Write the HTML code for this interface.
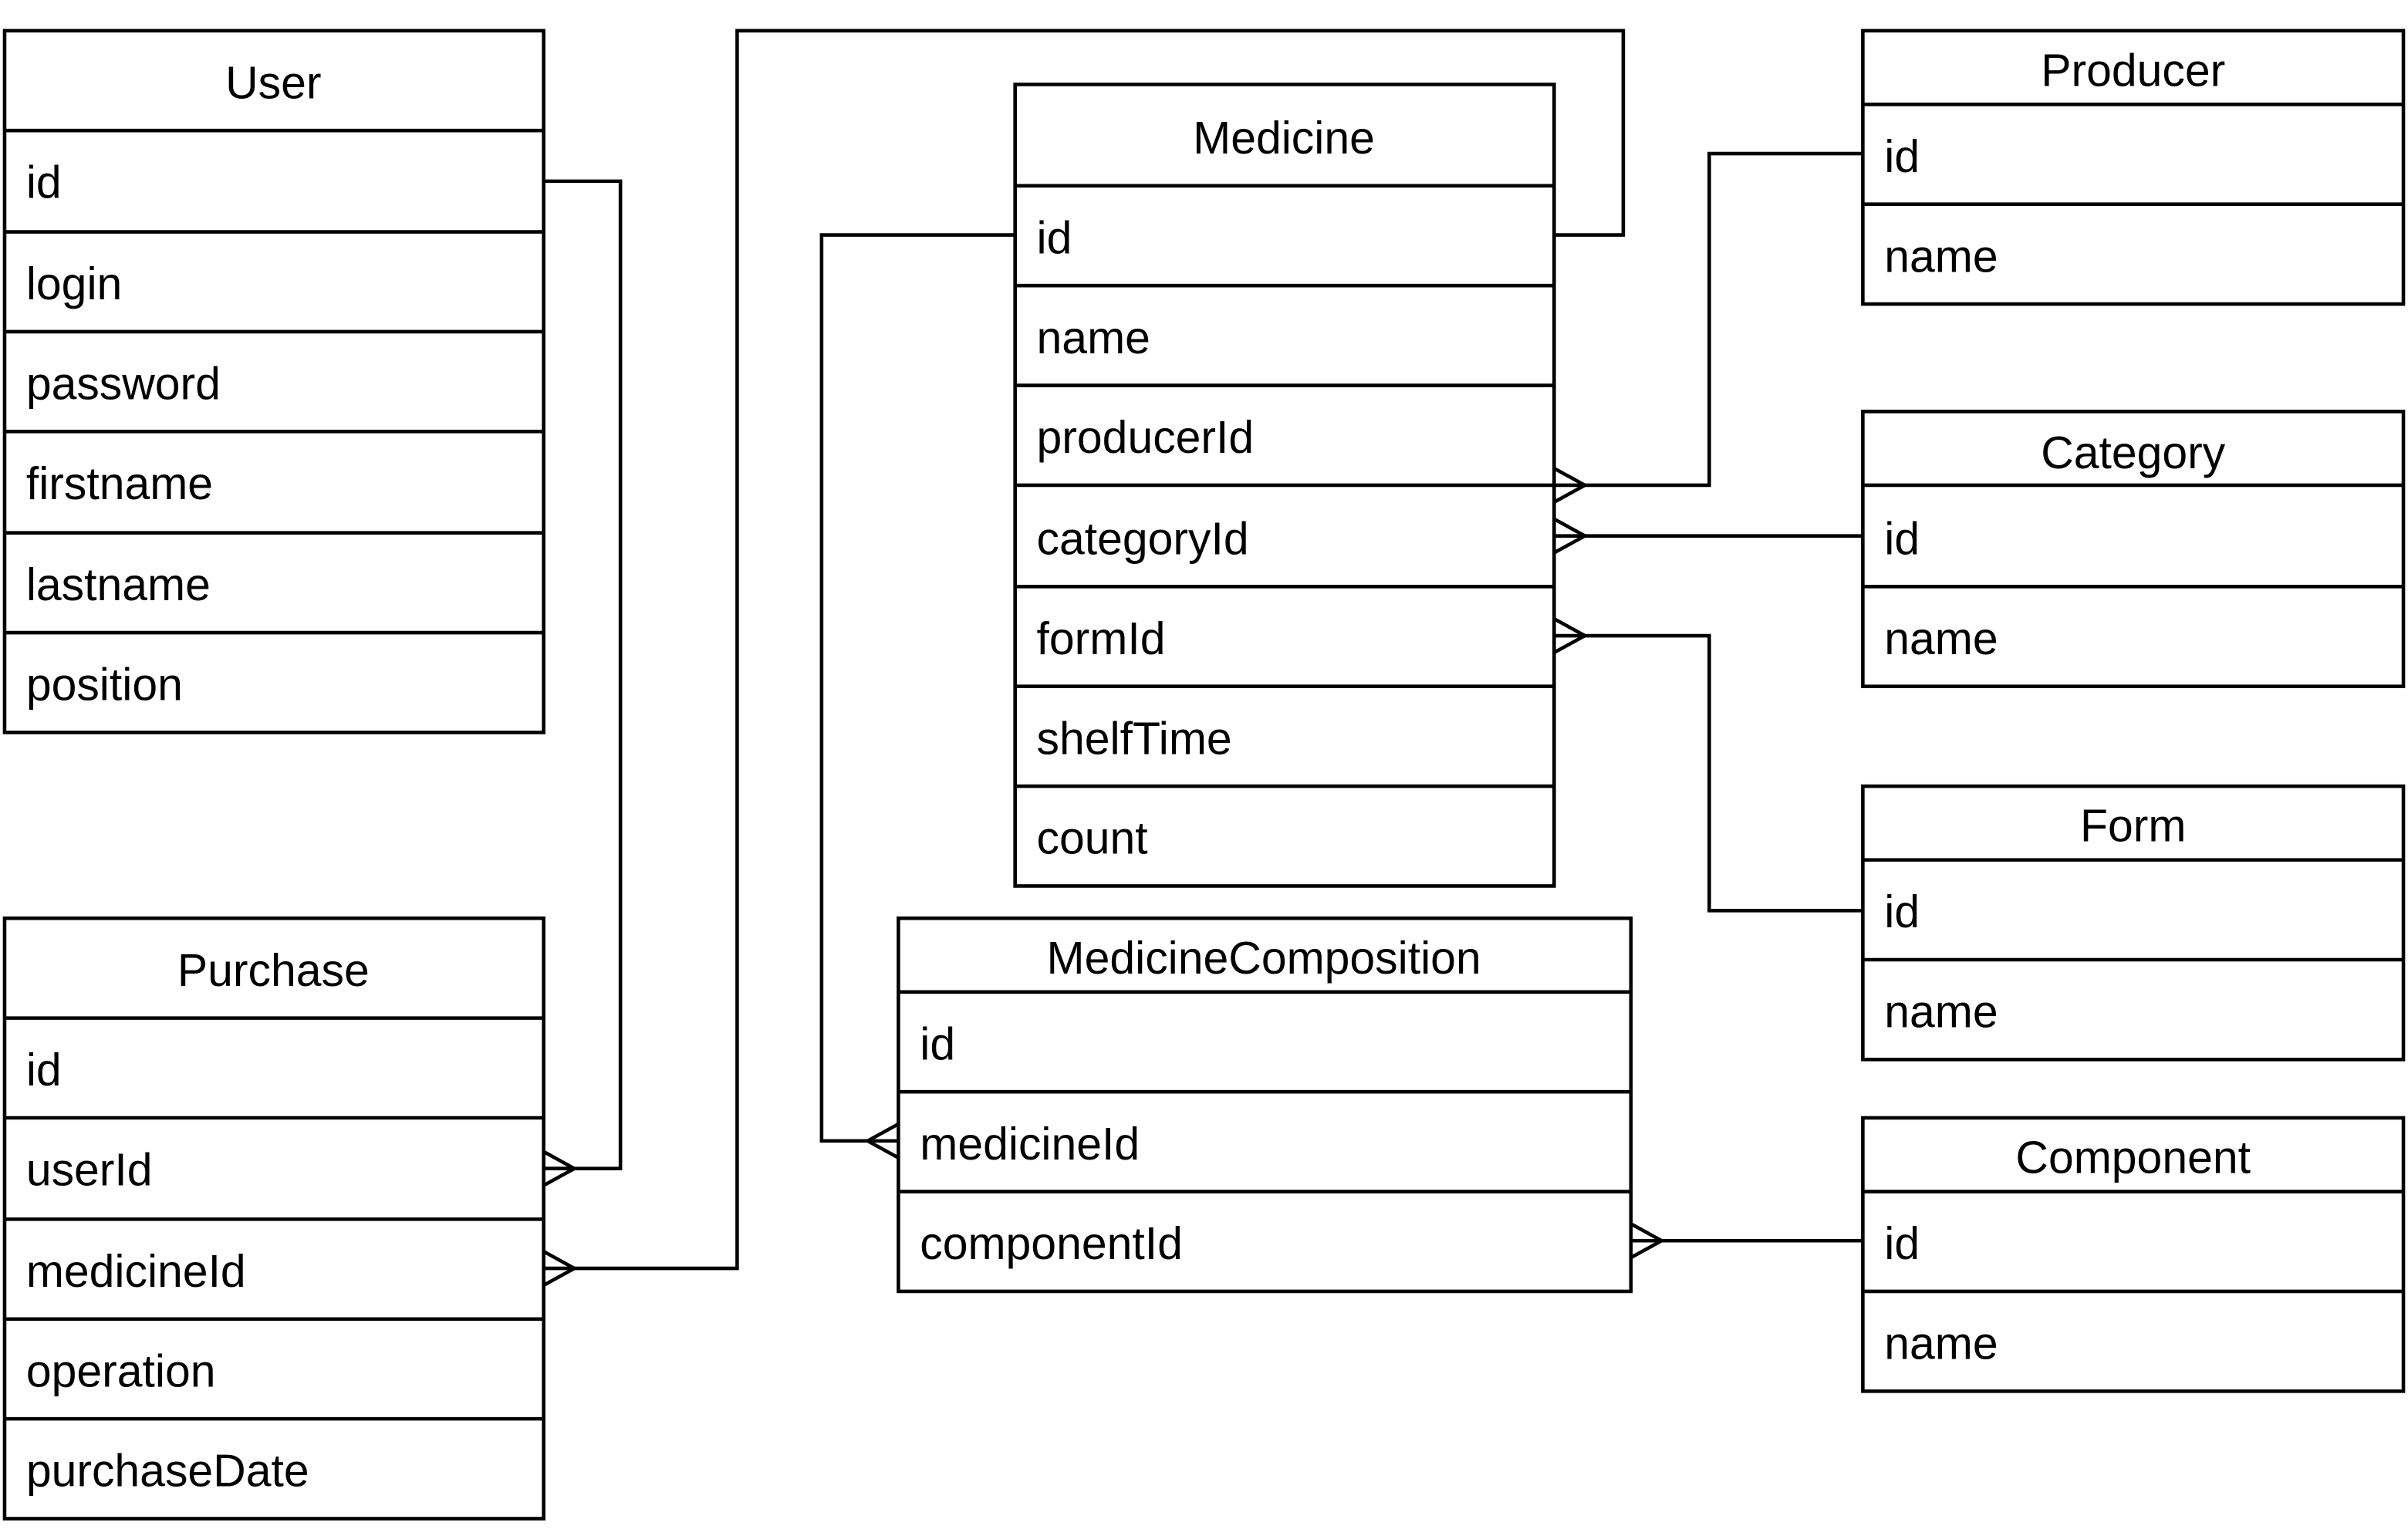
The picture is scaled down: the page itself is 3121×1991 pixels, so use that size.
<!DOCTYPE html>
<html><head><meta charset="utf-8"><style>
html,body{margin:0;padding:0;background:#fff;}
svg{display:block;}
text{font-family:"Liberation Sans",Arial,sans-serif;font-size:29.6px;fill:#000;}
</style></head><body>
<svg width="3121" height="1991" viewBox="0 0 1568 1000.3" preserveAspectRatio="none" xmlns="http://www.w3.org/2000/svg">
<g fill="none" stroke="#000" stroke-width="2.3">
<rect x="3" y="20" width="351" height="457"/>
<path d="M3 85H354M3 151H354M3 216H354M3 281H354M3 347H354M3 412H354"/>
<rect x="3" y="598" width="351" height="391"/>
<path d="M3 663H354M3 728H354M3 794H354M3 859H354M3 924H354"/>
<rect x="661" y="55" width="351" height="522"/>
<path d="M661 121H1012M661 186H1012M661 251H1012M661 316H1012M661 382H1012M661 447H1012M661 512H1012"/>
<rect x="585" y="598" width="477" height="243"/>
<path d="M585 646H1062M585 711H1062M585 776H1062"/>
<rect x="1213" y="20" width="352" height="178"/>
<path d="M1213 68H1565M1213 133H1565"/>
<rect x="1213" y="268" width="352" height="179"/>
<path d="M1213 316H1565M1213 382H1565"/>
<rect x="1213" y="512" width="352" height="178"/>
<path d="M1213 560H1565M1213 625H1565"/>
<rect x="1213" y="728" width="352" height="178"/>
<path d="M1213 776H1565M1213 841H1565"/>
<path d="M354 118H404V761H354"/>
<path d="M354 761L374 761M354 750L374 761L354 772"/>
<path d="M354 826H480V20H1057V153H1012"/>
<path d="M354 815L374 826L354 837"/>
<path d="M661 153H535V743H585"/>
<path d="M585 732L565 743L585 754"/>
<path d="M1213 100H1113V316H1012"/>
<path d="M1012 305L1032 316L1012 327"/>
<path d="M1213 349H1012"/>
<path d="M1012 338L1032 349L1012 360"/>
<path d="M1213 593H1113V414H1012"/>
<path d="M1012 403L1032 414L1012 425"/>
<path d="M1213 808H1062"/>
<path d="M1062 797L1082 808L1062 819"/>
</g>
<g>
<text x="178" y="64" text-anchor="middle">User</text>
<text x="17" y="129">id</text>
<text x="17" y="195">login</text>
<text x="17" y="260">password</text>
<text x="17" y="325">firstname</text>
<text x="17" y="391">lastname</text>
<text x="17" y="456">position</text>

<text x="178" y="642" text-anchor="middle">Purchase</text>
<text x="17" y="707">id</text>
<text x="17" y="772">userId</text>
<text x="17" y="838">medicineId</text>
<text x="17" y="903">operation</text>
<text x="17" y="968">purchaseDate</text>

<text x="836" y="100" text-anchor="middle">Medicine</text>
<text x="675" y="165">id</text>
<text x="675" y="230">name</text>
<text x="675" y="295">producerId</text>
<text x="675" y="361">categoryId</text>
<text x="675" y="426">formId</text>
<text x="675" y="491">shelfTime</text>
<text x="675" y="556">count</text>

<text x="823" y="634" text-anchor="middle">MedicineComposition</text>
<text x="599" y="690">id</text>
<text x="599" y="755">medicineId</text>
<text x="599" y="820">componentId</text>

<text x="1389" y="56" text-anchor="middle">Producer</text>
<text x="1227" y="112">id</text>
<text x="1227" y="177">name</text>

<text x="1389" y="305" text-anchor="middle">Category</text>
<text x="1227" y="361">id</text>
<text x="1227" y="426">name</text>

<text x="1389" y="548" text-anchor="middle">Form</text>
<text x="1227" y="604">id</text>
<text x="1227" y="669">name</text>

<text x="1389" y="764" text-anchor="middle">Component</text>
<text x="1227" y="820">id</text>
<text x="1227" y="885">name</text>
</g>
</svg>
</body></html>
